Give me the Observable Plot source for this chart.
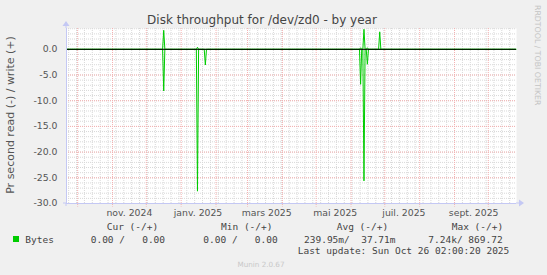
<!DOCTYPE html>
<html><head><meta charset="utf-8">
<script src="https://cdn.jsdelivr.net/npm/d3@7"></script>
<script src="https://cdn.jsdelivr.net/npm/@observablehq/plot@0.6"></script>
<style>
html,body{margin:0;padding:0;background:#f0f0f0;}
#chart{position:relative;width:547px;height:275px;overflow:hidden;}
</style></head><body><div id="chart"></div>
<script>
const title = "Disk throughput for /dev/zd0 - by year";
const yLabel = "Pr second read (-) / write (+)";
const sideNote = "RRDTOOL / TOBI OETIKER";
const footer = "Munin 2.0.67";
const lastUpdate = "Last update: Sun Oct 26 02:00:20 2025";
const timeDomain = ["2024-09-21T02:00:00Z", "2025-10-26T02:00:00Z"];
const yDomain = [-30, 4.05];
const yTicks = [0, -5, -10, -15, -20, -25, -30];
const xTickDates = ["2024-11-16", "2025-01-16", "2025-03-18", "2025-05-18", "2025-07-18", "2025-09-18"];
const xTickLabels = ["nov. 2024", "janv. 2025", "mars 2025", "mai 2025", "juil. 2025", "sept. 2025"];

const sampleDates = [
  "2024-09-21T12:00Z",
  "2024-12-15T12:00Z","2024-12-16T12:00Z","2024-12-17T12:00Z",
  "2025-01-14T12:00Z","2025-01-15T12:00Z","2025-01-16T12:00Z",
  "2025-01-21T12:00Z","2025-01-22T12:00Z","2025-01-23T12:00Z",
  "2025-06-08T12:00Z","2025-06-09T12:00Z","2025-06-10T12:00Z",
  "2025-06-11T12:00Z","2025-06-12T12:00Z","2025-06-13T12:00Z",
  "2025-06-14T12:00Z","2025-06-15T12:00Z","2025-06-16T12:00Z",
  "2025-06-25T12:00Z","2025-06-26T12:00Z","2025-06-27T12:00Z",
  "2025-10-25T12:00Z"
];
const readValues  = [0, 0,8.1,0, 0,27.6,0, 0,3.05,0, 0,6.8,0, 0,25.6,0, 0,2.9,0, 0,0,0, 0];
const writeValues = [0, 0,3.7,0, 0,0.4,0,  0,0,0,    0,0.3,0, 0,3.9,0,  0,0.3,0, 0,3.4,0, 0];

const legendSeries = "Bytes";
const legendColor = "#00cc00";
const legendHeaders = ["Cur (-/+)", "Min (-/+)", "Avg (-/+)", "Max (-/+)"];
const legendValues = ["0.00 /   0.00", "0.00 /   0.00", "239.95m/  37.71m", "7.24k/ 869.72"];

const data = sampleDates.map((d, i) => ({date: new Date(d), read: -readValues[i], write: writeValues[i]}));
const t0 = new Date(timeDomain[0]), t1 = new Date(timeDomain[1]);
const weeks = d3.utcMonday.range(t0, t1);
const months = d3.utcMonth.range(t0, t1);
const minorY = d3.range(-30, 5, 1);
const xTicks = xTickDates.map(s => new Date(s + "T00:00Z"));
const axisColor = "#c4c8f4";
const minorColor = "#d8d8d8";
const majorColor = "#f4b0b0";

const plot = Plot.plot({
  width: 547, height: 275,
  marginLeft: 66, marginRight: 31, marginTop: 28, marginBottom: 72,
  style: {background: "#f0f0f0", fontFamily: "DejaVu Sans", fontSize: "9.3px", color: "#555", overflow: "visible"},
  x: {type: "utc", domain: [t0, t1]},
  y: {domain: yDomain},
  marks: [
    Plot.frame({fill: "white", stroke: null}),
    Plot.gridY({ticks: minorY, stroke: minorColor, strokeOpacity: 1, strokeDasharray: "1,1"}),
    Plot.gridX({ticks: weeks, stroke: minorColor, strokeOpacity: 1, strokeDasharray: "1,1"}),
    Plot.gridY({ticks: yTicks, stroke: majorColor, strokeOpacity: 1, strokeDasharray: "1,1"}),
    Plot.gridX({ticks: months, stroke: majorColor, strokeOpacity: 1, strokeDasharray: "1,1", y1: yDomain[1], y2: -30.7}),
    Plot.line(data, {x: "date", y: "read", stroke: legendColor, strokeWidth: 1}),
    Plot.line(data, {x: "date", y: "write", stroke: legendColor, strokeWidth: 1}),
    Plot.ruleY([0], {stroke: "#000", strokeWidth: 1}),
    Plot.ruleY([-30], {stroke: axisColor}),
    Plot.ruleX([t0], {stroke: axisColor}),
    Plot.axisY({ticks: yTicks, tickFormat: d => d.toFixed(1), tickSize: 0, tickPadding: 9, label: null, fill: "#555"}),
    Plot.axisX({ticks: xTicks, tickFormat: d => xTickLabels[xTicks.findIndex(t => +t === +d)], tickSize: 0, tickPadding: 6, label: null, fill: "#555"})
  ]
});
document.getElementById("chart").appendChild(plot);

const svg = d3.select(plot);
const xs = plot.scale("x"), ys = plot.scale("y");
const xL = xs.apply(t0), xR = xs.apply(t1), yB = ys.apply(-30), yT = ys.apply(yDomain[1]);
// axis arrows
svg.append("path").attr("d", `M${xR},${yB}H${xR+3}`).attr("stroke", axisColor);
svg.append("path").attr("d", `M${xR+3},${yB-3.5}L${xR+8},${yB}L${xR+3},${yB+3.5}Z`).attr("fill", axisColor);
svg.append("path").attr("d", `M${xL},${yB}H${xL-3}`).attr("stroke", axisColor);
svg.append("path").attr("d", `M${xL},${yT}V${yT-2}`).attr("stroke", axisColor);
svg.append("path").attr("d", `M${xL-3.5},${yT-2}L${xL},${yT-7}L${xL+3.5},${yT-2}Z`).attr("fill", axisColor);
svg.append("path").attr("d", `M${xL},${yB}V${yB+3}`).attr("stroke", axisColor);

svg.append("text").attr("x", 262).attr("y", 24).attr("text-anchor", "middle")
  .attr("font-family", "DejaVu Sans").attr("font-size", "12px").attr("fill", "#444").text(title);
svg.append("text").attr("transform", "translate(14,115) rotate(-90)").attr("text-anchor", "middle")
  .attr("font-family", "DejaVu Sans").attr("font-size", "11px").attr("fill", "#555").text(yLabel);
svg.append("text").attr("transform", "translate(535,5) rotate(90)").attr("text-anchor", "start")
  .attr("font-family", "DejaVu Sans").attr("font-size", "7.8px").attr("fill", "#c4c4c4").text(sideNote);
svg.append("text").attr("x", 261).attr("y", 266.5).attr("text-anchor", "middle")
  .attr("font-family", "DejaVu Sans").attr("font-size", "7.2px").attr("fill", "#c8c8c8").text(footer);

const mono = (x, y, s) => svg.append("text").attr("x", x).attr("y", y).attr("text-anchor", "start")
  .attr("font-family", "DejaVu Sans Mono").attr("font-size", "9.5px").attr("fill", "#444")
  .style("white-space", "pre").text(s);
const headerX = [106.7, 221, 336.7, 451.7];
const valueX = [90.7, 203.3, 304, 428.3];
legendHeaders.forEach((h, i) => mono(headerX[i], 229.5, h));
svg.append("rect").attr("x", 13).attr("y", 236).attr("width", 6).attr("height", 6).attr("fill", legendColor);
mono(25.3, 242.5, legendSeries);
legendValues.forEach((v, i) => mono(valueX[i], 242.5, v));
mono(297.7, 254, lastUpdate);
</script></body></html>
